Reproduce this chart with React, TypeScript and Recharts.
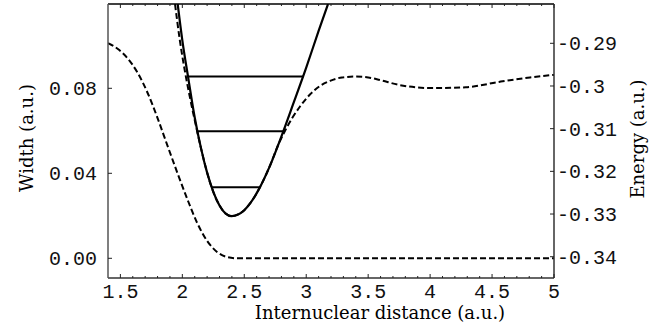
import React from 'react';
import { LineChart, Line, XAxis, YAxis } from 'recharts';

// Width (left axis) vs internuclear distance
const widthR = [1.4, 1.48, 1.56, 1.64, 1.72, 1.8, 1.88, 1.96, 2.04, 2.12, 2.2, 2.28, 2.36, 2.44, 5.0];
const widthVal = [0.1012, 0.0985, 0.094, 0.0872, 0.0778, 0.066, 0.053, 0.0402, 0.0279, 0.0166, 0.0082, 0.003, 0.0006, 0, 0];

// Potential well (solid, right axis)
const potR = [1.9625, 2.0, 2.047, 2.1, 2.15, 2.2, 2.25, 2.3, 2.35, 2.398, 2.45, 2.5, 2.55, 2.627, 2.7, 2.8, 2.9, 3.0, 3.1, 3.176];
const potE = [-0.2808, -0.2893, -0.298, -0.3074, -0.3145, -0.3203, -0.3248, -0.328, -0.3299, -0.3305, -0.3301, -0.3291, -0.3274, -0.3237, -0.3192, -0.3118, -0.3038, -0.2957, -0.2871, -0.2808];

// Resonance energy (dashed, right axis)
const resR = [1.941, 1.98, 2.02, 2.06, 2.1, 2.15, 2.2, 2.25, 2.3, 2.35, 2.398, 2.45, 2.5, 2.55, 2.627, 2.7, 2.78, 2.829, 2.885, 2.95, 3.03, 3.111, 3.192, 3.289, 3.394, 3.5, 3.595, 3.757, 4.023, 4.289, 4.564, 4.806, 5.0];
const resE = [-0.2808, -0.2893, -0.2964, -0.3025, -0.308, -0.3145, -0.3203, -0.3248, -0.328, -0.3299, -0.3305, -0.3301, -0.3291, -0.3274, -0.3237, -0.3192, -0.3134, -0.3105, -0.3076, -0.3048, -0.302, -0.3, -0.2988, -0.298, -0.2978, -0.298, -0.2986, -0.2998, -0.3005, -0.3003, -0.299, -0.298, -0.2974];

// Vibrational levels
const level1R = [2.237, 2.627];
const level1E = [-0.3237, -0.3237];
const level2R = [2.122, 2.815];
const level2E = [-0.3106, -0.3106];
const level3R = [2.047, 2.975];
const level3E = [-0.2978, -0.2978];

// Ticks
const xMajor = [1.5, 2, 2.5, 3, 3.5, 4, 4.5, 5];
const xLabels = ['1.5', '2', '2.5', '3', '3.5', '4', '4.5', '5'];
const xMinor = [1.5, 1.6, 1.7, 1.8, 1.9, 2.0, 2.1, 2.2, 2.3, 2.4, 2.5, 2.6, 2.7, 2.8, 2.9, 3.0, 3.1, 3.2, 3.3, 3.4, 3.5, 3.6, 3.7, 3.8, 3.9, 4.0, 4.1, 4.2, 4.3, 4.4, 4.5, 4.6, 4.7, 4.8, 4.9, 5.0];
const leftTicks = [0, 0.04, 0.08];
const leftLabels = ['0.00', '0.04', '0.08'];
const rightTicks = [-0.34, -0.33, -0.32, -0.31, -0.3, -0.29];
const rightLabels = ['-0.34', '-0.33', '-0.32', '-0.31', '-0.3', '-0.29'];

const toPts = (xs: number[], ys: number[]) => xs.map((x, i) => ({ x, y: ys[i] }));

const mono: React.CSSProperties = { fontFamily: "'Liberation Mono', 'DejaVu Sans Mono', monospace", fontSize: 20, fill: '#111' };
const serif: React.CSSProperties = { fontFamily: "'DejaVu Serif', 'Liberation Serif', serif", fontSize: 18, fill: '#000' };

const findIdx = (arr: number[], v: number) => arr.findIndex((a) => Math.abs(a - v) < 1e-6);

const BottomTick = (props: any) => {
  const { x, y, payload } = props;
  const i = findIdx(xMajor, payload.value);
  const major = i >= 0;
  return (
    <g>
      <line x1={x} y1={y} x2={x} y2={y - (major ? 4 : 2)} stroke="#222" strokeWidth={1} />
      {major && (
        <text x={x} y={y + 20} textAnchor="middle" style={mono}>
          {xLabels[i]}
        </text>
      )}
    </g>
  );
};

const TopTick = (props: any) => {
  const { x, y, payload } = props;
  const major = findIdx(xMajor, payload.value) >= 0;
  return <line x1={x} y1={y} x2={x} y2={y + (major ? 4 : 2)} stroke="#222" strokeWidth={1} />;
};

const LeftTick = (props: any) => {
  const { x, y, payload } = props;
  const i = findIdx(leftTicks, payload.value);
  return (
    <g>
      <line x1={x} y1={y} x2={x + 4} y2={y} stroke="#222" strokeWidth={1} />
      <text x={x - 11} y={y + 7} textAnchor="end" style={mono}>
        {i >= 0 ? leftLabels[i] : ''}
      </text>
    </g>
  );
};

const RightTick = (props: any) => {
  const { x, y, payload } = props;
  const i = findIdx(rightTicks, payload.value);
  return (
    <g>
      <line x1={x} y1={y} x2={x - 4} y2={y} stroke="#222" strokeWidth={1} />
      <text x={x + 3} y={y + 7} textAnchor="start" style={mono}>
        {i >= 0 ? rightLabels[i] : ''}
      </text>
    </g>
  );
};

const LeftLabel = () => (
  <text x={26} y={138} transform="rotate(-90 26 138)" textAnchor="middle" dominantBaseline="central" style={serif}>
    Width (a.u.)
  </text>
);
const RightLabel = () => (
  <text x={637} y={139} transform="rotate(-90 637 139)" textAnchor="middle" dominantBaseline="central" style={serif}>
    Energy (a.u.)
  </text>
);
const BottomLabel = () => (
  <text x={380} y={319} textAnchor="middle" style={serif}>
    Internuclear distance (a.u.)
  </text>
);

const axisLine = { stroke: '#333', strokeWidth: 1.5 };

export default function App() {
  return (
    <div style={{ position: 'absolute', left: 0, top: 0, width: 667, height: 330, background: '#fff' }}>
      <LineChart width={667} height={330} margin={{ top: 3, right: 0, bottom: 0, left: 0 }}>
        <XAxis
          xAxisId="x"
          dataKey="x"
          type="number"
          domain={[1.4, 5]}
          allowDataOverflow
          ticks={xMinor}
          interval={0}
          tickSize={0}
          tickMargin={0}
          tick={BottomTick}
          axisLine={axisLine}
          height={52}
          label={BottomLabel}
        />
        <XAxis
          xAxisId="top"
          orientation="top"
          dataKey="x"
          type="number"
          domain={[1.4, 5]}
          allowDataOverflow
          ticks={xMinor}
          interval={0}
          tickSize={0}
          tickMargin={0}
          tick={TopTick}
          axisLine={{ stroke: '#000', strokeWidth: 1.5 }}
          height={1}
        />
        <YAxis
          yAxisId="left"
          type="number"
          domain={[-0.00927, 0.11967]}
          allowDataOverflow
          ticks={leftTicks}
          interval={0}
          tickSize={0}
          tickMargin={0}
          tick={LeftTick}
          axisLine={{ stroke: '#555', strokeWidth: 1.5 }}
          width={108}
          label={LeftLabel}
        />
        <YAxis
          yAxisId="right"
          orientation="right"
          type="number"
          domain={[-0.34499, -0.28079]}
          allowDataOverflow
          ticks={rightTicks}
          interval={0}
          tickSize={0}
          tickMargin={0}
          tick={RightTick}
          axisLine={axisLine}
          width={113}
          label={RightLabel}
        />
        <Line
          xAxisId="top"
          yAxisId="left"
          data={toPts(widthR, widthVal)}
          dataKey="y"
          type="monotone"
          stroke="#000"
          strokeWidth={2}
          strokeDasharray="6 3"
          dot={false}
          isAnimationActive={false}
        />
        <Line
          xAxisId="x"
          yAxisId="right"
          data={toPts(resR, resE)}
          dataKey="y"
          type="monotone"
          stroke="#000"
          strokeWidth={2}
          strokeDasharray="6 3"
          dot={false}
          isAnimationActive={false}
        />
        <Line
          xAxisId="x"
          yAxisId="right"
          data={toPts(potR, potE)}
          dataKey="y"
          type="monotone"
          stroke="#000"
          strokeWidth={2.2}
          dot={false}
          isAnimationActive={false}
        />
        {[
          [level1R, level1E],
          [level2R, level2E],
          [level3R, level3E],
        ].map(([r, e], k) => (
          <Line
            key={k}
            xAxisId="x"
            yAxisId="right"
            data={toPts(r, e)}
            dataKey="y"
            type="linear"
            stroke="#000"
            strokeWidth={2}
            dot={false}
            isAnimationActive={false}
          />
        ))}
      </LineChart>
    </div>
  );
}
